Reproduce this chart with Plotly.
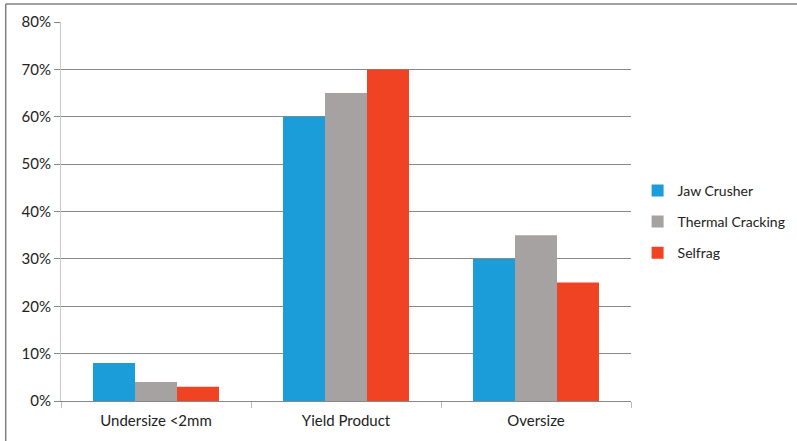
import plotly.graph_objects as go

categories = ["Undersize <2mm", "Yield Product", "Oversize"]
series_names = ["Jaw Crusher", "Thermal Cracking", "Selfrag"]
jaw_crusher = [0.08, 0.60, 0.30]
thermal_cracking = [0.04, 0.65, 0.35]
selfrag = [0.03, 0.70, 0.25]
colors = ["#1b9dd9", "#a6a2a2", "#f04323"]

fig = go.Figure()
for name, vals, col in zip(series_names, [jaw_crusher, thermal_cracking, selfrag], colors):
    fig.add_trace(go.Bar(
        x=categories, y=vals, name=name, legendgroup=name,
        marker=dict(color=col, line=dict(width=0)),
    ))

font = dict(family="Lato, Open Sans, Liberation Sans, sans-serif", size=15, color="#222")

fig.update_layout(
    width=797, height=441,
    margin=dict(l=61, r=166, t=22, b=40, autoexpand=False),
    paper_bgcolor="white", plot_bgcolor="white",
    barmode="group", bargap=0.337, bargroupgap=0,
    font=font,
    showlegend=True,
    legend=dict(xref="container", yref="container", x=0.80, y=0.497,
                xanchor="left", yanchor="middle",
                font=dict(size=14, color="#222"), tracegroupgap=10,
                itemwidth=30),
    xaxis=dict(showgrid=False, showline=True, linecolor="#888", linewidth=1,
               ticks="outside", tickson="boundaries", ticklen=6, tickcolor="#bbb",
               tickfont=dict(size=15), ticklabelstandoff=6),
    yaxis=dict(range=[0, 0.8], dtick=0.1, tickformat=".0%", showgrid=True,
               gridcolor="#888", gridwidth=1, showline=True, linecolor="#c8c8c8",
               ticks="outside", ticklen=6, tickcolor="#888", zeroline=False,
               tickfont=dict(size=15)),
    shapes=[
        dict(type="line", xref="paper", yref="paper", x0=-0.097, x1=1.5, y0=1.0475, y1=1.0475,
             line=dict(color="#808080", width=1.5)),
        dict(type="line", xref="paper", yref="paper", x0=-0.097, x1=-0.097, y0=1.0475, y1=-0.2,
             line=dict(color="#808080", width=1.5)),
    ],
)

fig.write_html("out.html")
